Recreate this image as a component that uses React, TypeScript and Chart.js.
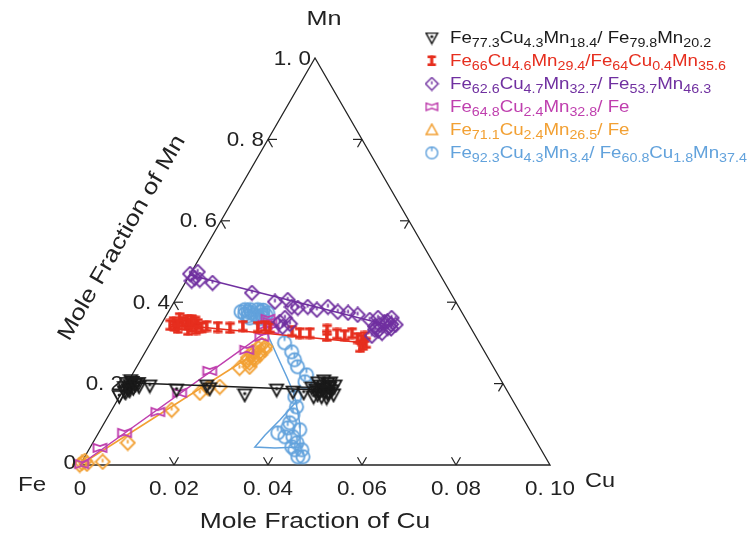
import { useEffect, useRef } from "react";
import { Chart, registerables } from "chart.js";

Chart.register(...registerables);

const CU_MAX = 0.1;
const SQ = Math.sqrt(3) / 2;

const cuTicks = [0, 0.02, 0.04, 0.06, 0.08, 0.1];
const cuTickLabels = ["0", "0. 02", "0. 04", "0. 06", "0. 08", "0. 10"];
const mnTicks = [0, 0.2, 0.4, 0.6, 0.8, 1.0];
const mnTickLabels = ["0", "0. 2", "0. 4", "0. 6", "0. 8", "1. 0"];

const legendLabels = [
  "Fe77.3Cu4.3Mn18.4/ Fe79.8Mn20.2",
  "Fe66Cu4.6Mn29.4/Fe64Cu0.4Mn35.6",
  "Fe62.6Cu4.7Mn32.7/ Fe53.7Mn46.3",
  "Fe64.8Cu2.4Mn32.8/ Fe",
  "Fe71.1Cu2.4Mn26.5/ Fe",
  "Fe92.3Cu4.3Mn3.4/ Fe60.8Cu1.8Mn37.4",
];

// Series 1 (black)
const blackCu = [0.0, 0.001, 0.0, 0.002, 0.001, 0.003, 0.001, 0.002, 0.0005, 0.0, 0.0005, 0.0012, 0.0009, 0.0025, 0.0015, 0.0019, 0.0052, 0.0114, 0.0173, 0.0183, 0.0265, 0.0327, 0.0364, 0.0388, 0.0399, 0.041, 0.0414, 0.0418, 0.042, 0.0425, 0.0428, 0.0431, 0.0432, 0.0435, 0.0437, 0.044, 0.0445, 0.0446, 0.0406, 0.0416, 0.0433, 0.0454, 0.0443, 0.0414, 0.0421, 0.0441];
const blackMn = [0.2, 0.195, 0.19, 0.198, 0.185, 0.192, 0.203, 0.188, 0.18, 0.168, 0.207, 0.189, 0.177, 0.2, 0.182, 0.197, 0.194, 0.184, 0.194, 0.187, 0.172, 0.184, 0.179, 0.177, 0.189, 0.184, 0.194, 0.18, 0.172, 0.186, 0.199, 0.167, 0.179, 0.192, 0.189, 0.175, 0.182, 0.194, 0.2015, 0.2064, 0.2015, 0.172, 0.1646, 0.167, 0.1794, 0.1769];
const blackFitCu = [0.0, 0.0445];
const blackFitMn = [0.202, 0.183];

// Series 2 (red)
const redCu = [0.0024, 0.0032, 0.0054, 0.006, 0.0078, 0.004, 0.0064, 0.008, 0.0043, 0.003, 0.007, 0.0036, 0.005, 0.0068, 0.009, 0.002, 0.0058, 0.0099, 0.0124, 0.0151, 0.0176, 0.0209, 0.0223, 0.0236, 0.0287, 0.0306, 0.0327, 0.036, 0.0367, 0.0386, 0.0404, 0.0417, 0.0435, 0.0455, 0.0446, 0.0459, 0.0451, 0.0449];
const redMn = [0.351, 0.361, 0.344, 0.356, 0.346, 0.337, 0.332, 0.334, 0.351, 0.342, 0.352, 0.345, 0.356, 0.34, 0.338, 0.344, 0.348, 0.3415, 0.339, 0.337, 0.3415, 0.339, 0.3415, 0.337, 0.329, 0.324, 0.324, 0.332, 0.317, 0.322, 0.319, 0.324, 0.312, 0.295, 0.307, 0.3, 0.29, 0.3145];
const redFitCu = [0.002, 0.046];
const redFitMn = [0.346, 0.3];

// Series 3 (purple)
const purpleCu = [0.0, 0.0015, 0.0014, 0.0012, 0.0028, 0.0059, 0.0155, 0.0215, 0.024, 0.0257, 0.0271, 0.0291, 0.0314, 0.0334, 0.0361, 0.0384, 0.0407, 0.0439, 0.0454, 0.0473, 0.0483, 0.05, 0.0462, 0.0481, 0.0487, 0.0463, 0.0466, 0.047, 0.049, 0.0478, 0.0458, 0.0495, 0.025, 0.0256, 0.0274, 0.0262];
const purpleMn = [0.469, 0.459, 0.474, 0.452, 0.4545, 0.447, 0.4226, 0.4005, 0.405, 0.388, 0.3857, 0.388, 0.381, 0.388, 0.376, 0.3735, 0.3686, 0.356, 0.361, 0.351, 0.361, 0.344, 0.332, 0.324, 0.3366, 0.317, 0.344, 0.33, 0.345, 0.352, 0.34, 0.335, 0.351, 0.361, 0.3464, 0.339];
const purpleFitCu = [0.0, 0.0477];
const purpleFitMn = [0.467, 0.345];

// Series 4 (magenta)
const magentaCu = [0.0003, 0.0022, 0.0056, 0.0101, 0.0124, 0.0161, 0.0214, 0.023, 0.0222, 0.0229, 0.0243, 0.0221];
const magentaMn = [0.002, 0.0418, 0.0786, 0.13, 0.177, 0.231, 0.2826, 0.3145, 0.344, 0.351, 0.3317, 0.3587];
const magentaFitCu = [0.0, 0.0235];
const magentaFitMn = [0.0, 0.33];

// Series 5 (orange)
const orangeCu = [0.0, 0.0002, 0.0006, 0.0014, 0.0045, 0.0075, 0.0128, 0.0167, 0.0178, 0.0202, 0.0221, 0.0241, 0.0226, 0.0229, 0.0235, 0.024, 0.0243, 0.0248, 0.0236, 0.0252, 0.0232, 0.0244, 0.0238, 0.025, 0.0228];
const orangeMn = [0.0, 0.005, 0.0098, 0.0025, 0.0074, 0.054, 0.135, 0.177, 0.189, 0.1916, 0.238, 0.2408, 0.263, 0.2776, 0.2875, 0.2948, 0.258, 0.27, 0.2506, 0.2826, 0.27, 0.276, 0.262, 0.29, 0.256];
const orangeFitCu = [0.0, 0.0245];
const orangeFitMn = [0.0, 0.285];

// Series 6 (blue)
const blueCu = [0.0161, 0.0179, 0.0188, 0.0205, 0.0213, 0.0181, 0.0204, 0.0188, 0.017, 0.0196, 0.0155, 0.0172, 0.0197, 0.0208, 0.0175, 0.0212, 0.0166, 0.02, 0.0286, 0.0312, 0.0328, 0.0343, 0.0372, 0.0377, 0.0374, 0.039, 0.0392, 0.0395, 0.0382, 0.0402, 0.0419, 0.0435, 0.0454, 0.0454, 0.0465, 0.0429, 0.0397, 0.0425, 0.0439];
const blueMn = [0.381, 0.3735, 0.381, 0.3686, 0.3735, 0.361, 0.3587, 0.3686, 0.376, 0.365, 0.376, 0.381, 0.376, 0.362, 0.366, 0.368, 0.37, 0.38, 0.2998, 0.2776, 0.258, 0.2408, 0.2211, 0.204, 0.167, 0.1425, 0.1229, 0.1032, 0.0786, 0.0688, 0.0688, 0.054, 0.0369, 0.0197, 0.0197, 0.0442, 0.0909, 0.086, 0.0369];
const blueFitCu = [0.0218, 0.024, 0.029, 0.0332, 0.0364, 0.0382, 0.037, 0.0357, 0.035, 0.0394, 0.0446, 0.0419, 0.0382];
const blueFitMn = [0.351, 0.3194, 0.263, 0.2162, 0.1794, 0.1548, 0.1106, 0.0737, 0.0442, 0.0418, 0.0442, 0.0983, 0.1548];

const COLORS = ["#1a1a1a", "#e62e1e", "#7030a0", "#bf3fae", "#f2a033", "#62a2dc"];
const FONT = '"Liberation Sans", Arial, sans-serif';

function proj(cu: number, mn: number) {
  return { x: cu / CU_MAX + mn / 2, y: mn * SQ };
}
function pts(cu: number[], mn: number[]) {
  return cu.map((c, i) => proj(c, mn[i]));
}

function makeMarker(kind: string, color: string, k: number, lw: number): HTMLCanvasElement {
  const c = document.createElement("canvas");
  const bw = kind === "ibeam" ? 10 : 14;
  const bh = kind === "ibeam" ? 11 : kind === "bowtie" ? 10 : 14;
  c.width = Math.ceil(bw * k);
  c.height = Math.ceil(bh * k);
  const g = c.getContext("2d")!;
  g.scale(k, k);
  g.strokeStyle = color;
  g.fillStyle = color;
  g.lineWidth = lw;
  g.lineJoin = "miter";
  if (kind === "triDown") {
    g.beginPath();
    g.moveTo(1.5, 2.5);
    g.lineTo(12.5, 2.5);
    g.lineTo(7, 12.5);
    g.closePath();
    g.stroke();
    g.beginPath();
    g.arc(7, 6, 1.4, 0, Math.PI * 2);
    g.fill();
  } else if (kind === "triUp") {
    g.beginPath();
    g.moveTo(7, 1.5);
    g.lineTo(12.5, 11.5);
    g.lineTo(1.5, 11.5);
    g.closePath();
    g.stroke();
  } else if (kind === "ibeam") {
    g.fillRect(1, 0.5, 8, 2.5);
    g.fillRect(3.5, 0.5, 3, 10);
    g.fillRect(1, 8, 8, 2.5);
  } else if (kind === "diamond") {
    g.beginPath();
    g.moveTo(7, 1);
    g.lineTo(13, 7);
    g.lineTo(7, 13);
    g.lineTo(1, 7);
    g.closePath();
    g.stroke();
    g.beginPath();
    g.moveTo(7, 4.5);
    g.lineTo(7, 7.5);
    g.stroke();
  } else if (kind === "bowtie") {
    g.beginPath();
    g.moveTo(1.5, 1.5);
    g.lineTo(7, 3.5);
    g.lineTo(12.5, 1.5);
    g.lineTo(12.5, 8.5);
    g.lineTo(7, 6.5);
    g.lineTo(1.5, 8.5);
    g.closePath();
    g.stroke();
  } else if (kind === "circle") {
    g.beginPath();
    g.arc(7, 7, 5.6, 0, Math.PI * 2);
    g.stroke();
    g.beginPath();
    g.moveTo(7, 1.5);
    g.lineTo(7, 5.5);
    g.stroke();
  }
  return c;
}

function drawText(
  ctx: CanvasRenderingContext2D,
  text: string,
  x: number,
  y: number,
  size: number,
  align: CanvasTextAlign,
  stretch: number,
  rot = 0,
  color = "#222"
) {
  ctx.save();
  ctx.translate(x, y);
  ctx.rotate(rot);
  ctx.scale(stretch, 1);
  ctx.font = `${size}px ${FONT}`;
  ctx.fillStyle = color;
  ctx.textAlign = align;
  ctx.textBaseline = "middle";
  ctx.fillText(text, 0, 0);
  ctx.restore();
}

function drawFormula(ctx: CanvasRenderingContext2D, text: string, x: number, y: number, color: string) {
  const parts = text.split(/(\d+(?:\.\d+)?)/).filter((p) => p.length > 0);
  const stretch = 1.1;
  ctx.save();
  ctx.translate(x, y);
  ctx.scale(stretch, 1);
  ctx.fillStyle = color;
  ctx.textAlign = "left";
  ctx.textBaseline = "alphabetic";
  let cx = 0;
  for (const p of parts) {
    const isSub = /^\d/.test(p);
    ctx.font = isSub ? `13px ${FONT}` : `17px ${FONT}`;
    ctx.fillText(p, cx, isSub ? 10 : 6);
    cx += ctx.measureText(p).width;
  }
  ctx.restore();
}

export default function App() {
  const ref = useRef<HTMLCanvasElement | null>(null);

  useEffect(() => {
    const canvas = ref.current;
    if (!canvas) return;

    const kinds = ["triDown", "ibeam", "diamond", "bowtie", "diamond", "circle"];
    const legendKinds = ["triDown", "ibeam", "diamond", "bowtie", "triUp", "circle"];
    const markers = kinds.map((k, i) => makeMarker(k, COLORS[i], 1.18, 1.55));
    const legendMarkers = legendKinds.map((k, i) => makeMarker(k, COLORS[i], 1.05, 1.4));

    const series = [
      { cu: blackCu, mn: blackMn, fcu: blackFitCu, fmn: blackFitMn, order: 0 },
      { cu: redCu, mn: redMn, fcu: redFitCu, fmn: redFitMn, order: 2 },
      { cu: purpleCu, mn: purpleMn, fcu: purpleFitCu, fmn: purpleFitMn, order: 1 },
      { cu: magentaCu, mn: magentaMn, fcu: magentaFitCu, fmn: magentaFitMn, order: 3 },
      { cu: orangeCu, mn: orangeMn, fcu: orangeFitCu, fmn: orangeFitMn, order: 4 },
      { cu: blueCu, mn: blueMn, fcu: blueFitCu, fmn: blueFitMn, order: 5 },
    ];

    const datasets: any[] = [];
    series.forEach((s, i) => {
      datasets.push({
        data: pts(s.cu, s.mn),
        pointStyle: markers[i],
        pointRadius: 5,
        showLine: false,
        clip: false,
        order: s.order,
      });
      datasets.push({
        data: pts(s.fcu, s.fmn),
        showLine: true,
        borderColor: COLORS[i],
        borderWidth: 1.5,
        pointRadius: 0,
        tension: 0,
        clip: false,
        order: s.order + 0.5,
      });
    });
    datasets.push({
      data: [proj(0, 0), proj(CU_MAX, 0), proj(0, 1), proj(0, 0)],
      showLine: true,
      borderColor: "#222",
      borderWidth: 1.3,
      pointRadius: 0,
      clip: false,
      order: 20,
    });

    const ternaryPlugin = {
      id: "ternary",
      beforeDatasetsDraw(chart: any) {
        const ctx: CanvasRenderingContext2D = chart.ctx;
        const xs = chart.scales.x;
        const ys = chart.scales.y;
        const P = (cu: number, mn: number) => {
          const p = proj(cu, mn);
          return { x: xs.getPixelForValue(p.x), y: ys.getPixelForValue(p.y) };
        };
        const L = 9;
        ctx.save();
        ctx.strokeStyle = "#222";
        ctx.lineWidth = 1.2;
        const seg = (p: { x: number; y: number }, dx: number, dy: number) => {
          ctx.beginPath();
          ctx.moveTo(p.x, p.y);
          ctx.lineTo(p.x + dx * L, p.y + dy * L);
          ctx.stroke();
        };
        cuTicks.slice(1, -1).forEach((t) => {
          const p = P(t, 0);
          seg(p, 0.5, -SQ);
          seg(p, -0.5, -SQ);
        });
        mnTicks.slice(1, -1).forEach((t) => {
          const p = P(0, t);
          seg(p, 1, 0);
          seg(p, 0.5, SQ);
          const q = P(CU_MAX * (1 - t), t);
          seg(q, -1, 0);
          seg(q, -0.5, SQ);
        });
        ctx.restore();
      },
      afterDatasetsDraw(chart: any) {
        const ctx: CanvasRenderingContext2D = chart.ctx;
        const xs = chart.scales.x;
        const ys = chart.scales.y;
        const P = (cu: number, mn: number) => {
          const p = proj(cu, mn);
          return { x: xs.getPixelForValue(p.x), y: ys.getPixelForValue(p.y) };
        };
        cuTicks.forEach((t, i) => {
          const p = P(t, 0);
          drawText(ctx, cuTickLabels[i], p.x, p.y + 24, 20, "center", 1.12);
        });
        mnTicks.forEach((t, i) => {
          const p = P(0, t);
          const dy = i === 0 ? -2 : 1;
          drawText(ctx, mnTickLabels[i], p.x - 4, p.y + dy, 20, "right", 1.12);
        });
        const fe = P(0, 0);
        const cu = P(CU_MAX, 0);
        const mn = P(0, 1);
        drawText(ctx, "Fe", fe.x - 48, fe.y + 20, 21, "center", 1.15);
        drawText(ctx, "Cu", cu.x + 50, cu.y + 16, 21, "center", 1.12);
        drawText(ctx, "Mn", mn.x + 9, mn.y - 39, 21, "center", 1.2);
        drawText(ctx, "Mole Fraction of Cu", (fe.x + cu.x) / 2, fe.y + 57, 22, "center", 1.2);
        drawText(ctx, "Mole Fraction of Mn", 122, 238, 22, "center", 1.2, -Math.PI / 3);
        legendLabels.forEach((lab, i) => {
          const y = 37 + i * 23;
          const m = legendMarkers[i];
          ctx.drawImage(m, 432 - m.width / 2, y + 1 - m.height / 2);
          drawFormula(ctx, lab, 450, y, COLORS[i]);
        });
      },
    };

    const chart = new Chart(canvas, {
      type: "scatter",
      data: { datasets },
      options: {
        responsive: false,
        maintainAspectRatio: false,
        animation: false,
        events: [],
        layout: { padding: { left: 80, right: 197, top: 58, bottom: 70 } },
        scales: {
          x: { type: "linear", min: 0, max: 1, display: false },
          y: { type: "linear", min: 0, max: SQ, display: false },
        },
        plugins: { legend: { display: false }, tooltip: { enabled: false } },
      },
      plugins: [ternaryPlugin],
    });
    return () => chart.destroy();
  }, []);

  return (
    <div style={{ position: "absolute", left: 0, top: 0, width: 747, height: 535, background: "#fff" }}>
      <canvas ref={ref} width={747} height={535} style={{ display: "block" }} />
    </div>
  );
}
